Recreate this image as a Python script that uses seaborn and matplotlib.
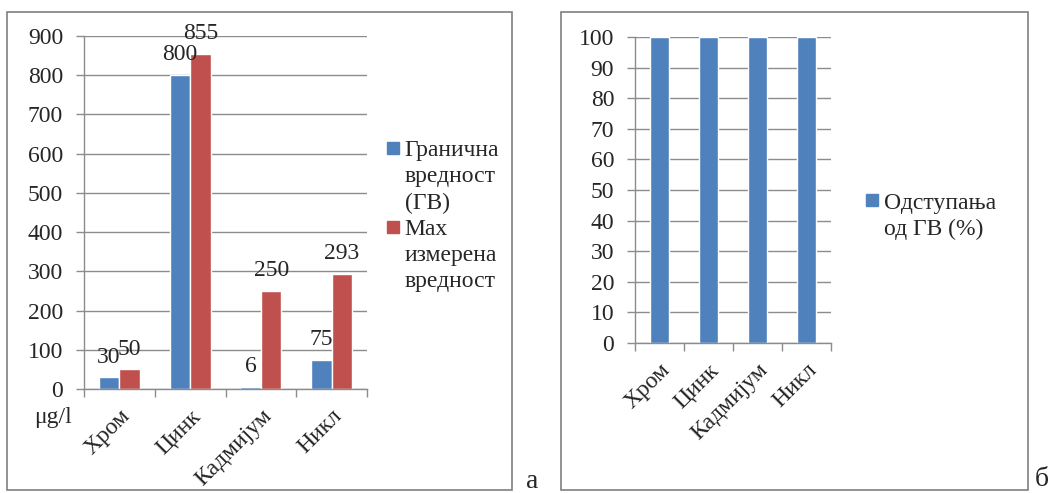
"""
Две колоне: граничне и максималне измерене вредности метала
и одступања од ГВ (%)
"""
import matplotlib
matplotlib.use("Agg")
import numpy as np
import pandas as pd
import matplotlib.pyplot as plt
from matplotlib.patches import Rectangle
from matplotlib.lines import Line2D
import seaborn as sns

# Подаци
metali = ["Хром", "Цинк", "Кадмијум", "Никл"]
granicna = [30, 800, 6, 75]
max_izmerena = [50, 855, 250, 293]
odstupanja = [100, 100, 100, 100]

serija_gv = ["Гранична", "вредност", "(ГВ)"]
serija_max = ["Мах", "измерена", "вредност"]
serija_odst = ["Одступања", "од ГВ (%)"]

BLUE = "#4F81BD"
RED = "#C0504D"
GRID = "#8c8c8c"
FS = 17

sns.set_style("white")
plt.rcParams['font.family'] = ['Liberation Serif', 'DejaVu Serif']
plt.rcParams['font.size'] = FS

W, H = 1052, 493
fig = plt.figure(figsize=(W / 100, H / 100), dpi=100)


def px_axes(x0, y0, x1, y1):
    return fig.add_axes([x0 / W, 1 - y1 / H, (x1 - x0) / W, (y1 - y0) / H])


def style_axes(ax, ymax, step):
    ax.set_ylim(0, ymax)
    ax.set_xlim(-0.5, len(metali) - 0.5)
    ax.set_yticks(np.arange(0, ymax + 1, step))
    ax.yaxis.grid(True, color=GRID, linewidth=1)
    ax.set_axisbelow(True)
    for s in ["top", "right"]:
        ax.spines[s].set_visible(False)
    for s in ["left", "bottom"]:
        ax.spines[s].set_color(GRID)
        ax.spines[s].set_linewidth(1)
    ax.tick_params(axis="y", length=6, color=GRID, width=1, pad=9, labelsize=FS, left=True)
    ax.set_xticks(np.arange(-0.5, len(metali), 1), minor=True)
    ax.tick_params(axis="x", which="minor", length=6, color=GRID, width=1, bottom=True)
    ax.tick_params(axis="x", which="major", length=0, pad=12, labelsize=FS)
    ax.set_xticks(range(len(metali)))
    ax.set_xticklabels(metali, rotation=45, ha="right", rotation_mode="anchor")
    ax.set_xlabel("")
    ax.set_ylabel("")


def legenda(ax, groups, colors, anchor):
    handles, labels = [], []
    for lines, c in zip(groups, colors):
        for i, t in enumerate(lines):
            if i == 0:
                h = Line2D([], [], marker="s", color="none", markerfacecolor=c,
                           markeredgecolor=c, markersize=8)
            else:
                h = Line2D([], [], color="none")
            handles.append(h)
            labels.append(t)
    ax.legend(handles=handles, labels=labels, loc="center left",
              bbox_to_anchor=anchor, frameon=False, fontsize=FS,
              handletextpad=0.1, handlelength=0.8, labelspacing=0.2,
              borderaxespad=0.0)


# Лева слика
df = pd.DataFrame({
    "metal": metali * 2,
    "vrednost": granicna + max_izmerena,
    "serija": ["ГВ"] * 4 + ["Мах"] * 4,
})
ax1 = px_axes(84, 36, 367, 389)
sns.barplot(data=df, x="metal", y="vrednost", hue="serija", order=metali,
            palette=[BLUE, RED], width=0.58, gap=0, saturation=1,
            ax=ax1, legend=False)
style_axes(ax1, 900, 100)
for cont in ax1.containers:
    ax1.bar_label(cont, labels=[f"{v:g}" for v in cont.datavalues],
                  padding=7, fontsize=FS)
legenda(ax1, [serija_gv, serija_max], [BLUE, RED], (1.025, 0.49))
fig.text(34 / W, 1 - 417 / H, "μg/l", fontsize=FS, va="center", ha="left")

# Десна слика
ax2 = px_axes(635, 37, 831, 343)
sns.barplot(x=metali, y=odstupanja, color=BLUE, width=0.39, saturation=1,
            ax=ax2)
style_axes(ax2, 100, 10)
legenda(ax2, [serija_odst], [BLUE], (1.115, 0.415))

# Оквири и ознаке
for x0, x1 in [(7, 512), (561, 1028)]:
    fig.add_artist(Rectangle((x0 / W, 1 - 490 / H), (x1 - x0) / W, (490 - 12) / H,
                             transform=fig.transFigure, fill=False,
                             edgecolor="#7f7f7f", linewidth=1.2))
fig.text(532 / W, 1 - 482 / H, "а", fontsize=20, ha="center", va="center")
fig.text(1042 / W, 1 - 480 / H, "б", fontsize=20, ha="center", va="center")

plt.savefig("out.png", dpi=100)
plt.close()
